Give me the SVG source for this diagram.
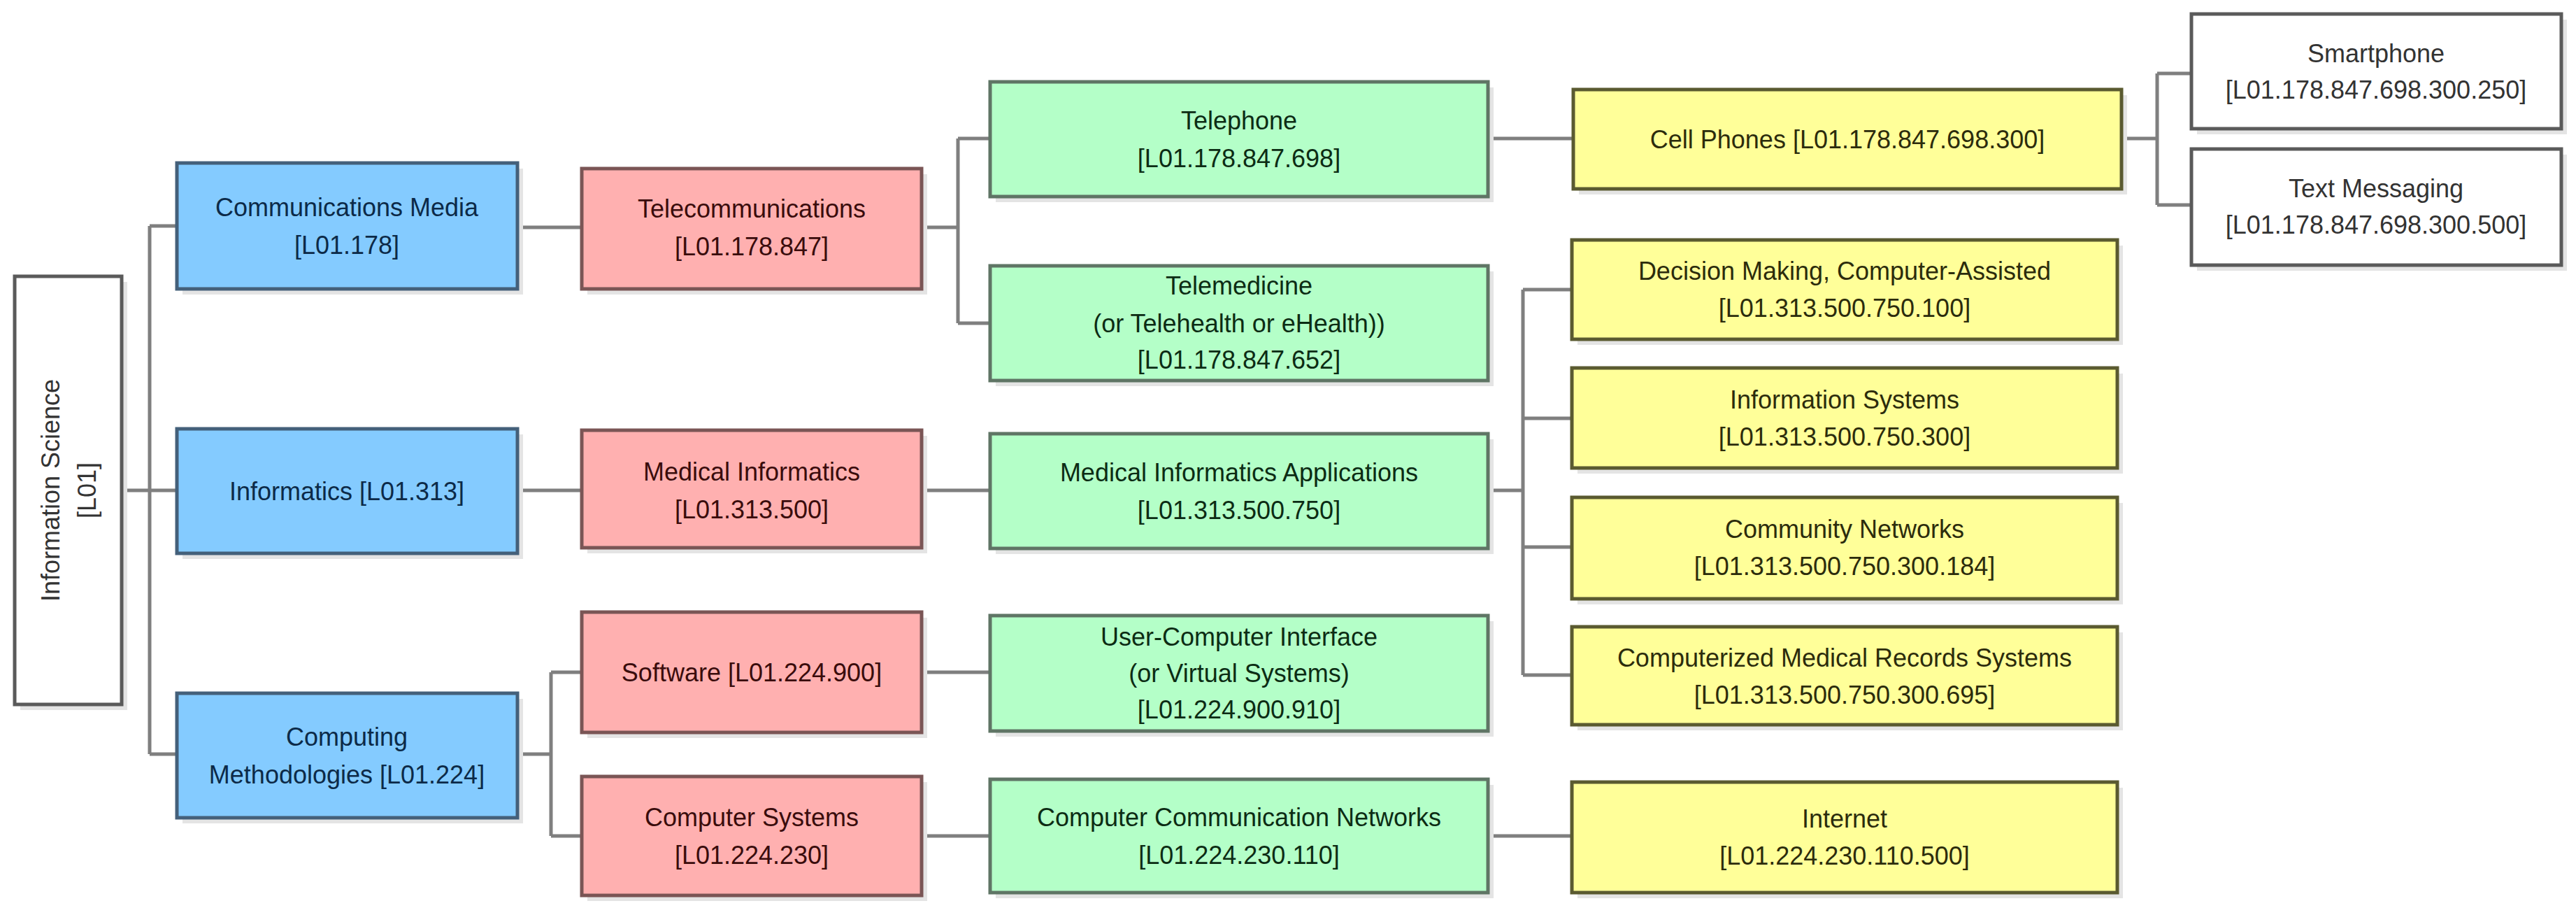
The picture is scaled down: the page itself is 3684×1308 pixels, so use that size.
<svg xmlns="http://www.w3.org/2000/svg" width="3684" height="1308" viewBox="0 0 3684 1308">
<style>
text{font-family:"Liberation Sans",Arial,sans-serif;font-size:36px;text-anchor:middle;dominant-baseline:central}
.sh{fill:#e4e4e4}
.wh rect.b{fill:#fff;stroke:#5a5a5a;stroke-width:5}
.bl rect.b{fill:#84CBFF;stroke:#44607a;stroke-width:5}
.rd rect.b{fill:#FFB0B0;stroke:#7a5555;stroke-width:5}
.gr rect.b{fill:#B4FFC8;stroke:#5f7565;stroke-width:5}
.ye rect.b{fill:#FFFF99;stroke:#5a5a30;stroke-width:5}
.wh text{fill:#333}.bl text{fill:#0c2a48}.rd text{fill:#3a0c0c}.gr text{fill:#0c2c14}.ye text{fill:#2c2c0c}
#conn path{fill:none;stroke:#7f7f7f;stroke-width:5}
</style>
<g id="conn">
<path d="M174 701H214M214 323V1078M214 323H253M214 701H253M214 1078H253"/>
<path d="M740 325H832M740 701H832M740 1078H788M788 961V1195M788 961H832M788 1195H832"/>
<path d="M1318 325H1370M1370 198V462M1370 198H1416M1370 462H1416"/>
<path d="M1318 701H1416M1318 961H1416M1318 1195H1416"/>
<path d="M2128 198H2250M2128 701H2178M2178 414V965M2178 414H2248M2178 598H2248M2178 782H2248M2178 965H2248M2128 1195H2248"/>
<path d="M3034 198H3085M3085 105V293M3085 105H3134M3085 293H3134"/>
</g>
<g id="n-root" class="wh"><rect class="sh" x="29" y="403" width="153" height="612"/><rect class="b" x="21" y="395" width="153" height="612"/><text transform="translate(98 701) rotate(-90)"><tspan x="0" y="-26">Information Science</tspan><tspan x="0" y="26">[L01]</tspan></text></g>
<g id="n-comm" class="bl"><rect class="sh" x="261" y="241" width="487" height="180"/><rect class="b" x="253" y="233" width="487" height="180"/><text x="496" y="296">Communications Media</text><text x="496" y="350">[L01.178]</text></g>
<g id="n-inf" class="bl"><rect class="sh" x="261" y="621" width="487" height="178"/><rect class="b" x="253" y="613" width="487" height="178"/><text x="496" y="702">Informatics [L01.313]</text></g>
<g id="n-cm" class="bl"><rect class="sh" x="261" y="999" width="487" height="178"/><rect class="b" x="253" y="991" width="487" height="178"/><text x="496" y="1053">Computing</text><text x="496" y="1107">Methodologies [L01.224]</text></g>
<g id="n-tel" class="rd"><rect class="sh" x="840" y="249" width="486" height="172"/><rect class="b" x="832" y="241" width="486" height="172"/><text x="1075" y="298">Telecommunications</text><text x="1075" y="352">[L01.178.847]</text></g>
<g id="n-mi" class="rd"><rect class="sh" x="840" y="623" width="486" height="168"/><rect class="b" x="832" y="615" width="486" height="168"/><text x="1075" y="674">Medical Informatics</text><text x="1075" y="728">[L01.313.500]</text></g>
<g id="n-sw" class="rd"><rect class="sh" x="840" y="883" width="486" height="172"/><rect class="b" x="832" y="875" width="486" height="172"/><text x="1075" y="961">Software [L01.224.900]</text></g>
<g id="n-cs" class="rd"><rect class="sh" x="840" y="1118" width="486" height="170"/><rect class="b" x="832" y="1110" width="486" height="170"/><text x="1075" y="1168">Computer Systems</text><text x="1075" y="1222">[L01.224.230]</text></g>
<g id="n-phone" class="gr"><rect class="sh" x="1424" y="125" width="712" height="164"/><rect class="b" x="1416" y="117" width="712" height="164"/><text x="1772" y="172">Telephone</text><text x="1772" y="226">[L01.178.847.698]</text></g>
<g id="n-tm" class="gr"><rect class="sh" x="1424" y="388" width="712" height="164"/><rect class="b" x="1416" y="380" width="712" height="164"/><text x="1772" y="408">Telemedicine</text><text x="1772" y="462">(or Telehealth or eHealth))</text><text x="1772" y="514">[L01.178.847.652]</text></g>
<g id="n-mia" class="gr"><rect class="sh" x="1424" y="628" width="712" height="164"/><rect class="b" x="1416" y="620" width="712" height="164"/><text x="1772" y="675">Medical Informatics Applications</text><text x="1772" y="729">[L01.313.500.750]</text></g>
<g id="n-uci" class="gr"><rect class="sh" x="1424" y="888" width="712" height="165"/><rect class="b" x="1416" y="880" width="712" height="165"/><text x="1772" y="910">User-Computer Interface</text><text x="1772" y="962">(or Virtual Systems)</text><text x="1772" y="1014">[L01.224.900.910]</text></g>
<g id="n-ccn" class="gr"><rect class="sh" x="1424" y="1122" width="712" height="162"/><rect class="b" x="1416" y="1114" width="712" height="162"/><text x="1772" y="1168">Computer Communication Networks</text><text x="1772" y="1222">[L01.224.230.110]</text></g>
<g id="n-cell" class="ye"><rect class="sh" x="2258" y="136" width="784" height="142"/><rect class="b" x="2250" y="128" width="784" height="142"/><text x="2642" y="199">Cell Phones [L01.178.847.698.300]</text></g>
<g id="n-dm" class="ye"><rect class="sh" x="2256" y="351" width="780" height="142"/><rect class="b" x="2248" y="343" width="780" height="142"/><text x="2638" y="387">Decision Making, Computer-Assisted</text><text x="2638" y="440">[L01.313.500.750.100]</text></g>
<g id="n-is" class="ye"><rect class="sh" x="2256" y="534" width="780" height="143"/><rect class="b" x="2248" y="526" width="780" height="143"/><text x="2638" y="571">Information Systems</text><text x="2638" y="624">[L01.313.500.750.300]</text></g>
<g id="n-cn" class="ye"><rect class="sh" x="2256" y="719" width="780" height="145"/><rect class="b" x="2248" y="711" width="780" height="145"/><text x="2638" y="756">Community Networks</text><text x="2638" y="809">[L01.313.500.750.300.184]</text></g>
<g id="n-cmr" class="ye"><rect class="sh" x="2256" y="904" width="780" height="140"/><rect class="b" x="2248" y="896" width="780" height="140"/><text x="2638" y="940">Computerized  Medical Records Systems</text><text x="2638" y="993">[L01.313.500.750.300.695]</text></g>
<g id="n-net" class="ye"><rect class="sh" x="2256" y="1126" width="780" height="158"/><rect class="b" x="2248" y="1118" width="780" height="158"/><text x="2638" y="1170">Internet</text><text x="2638" y="1223">[L01.224.230.110.500]</text></g>
<g id="n-sp" class="wh"><rect class="sh" x="3142" y="28" width="529" height="164"/><rect class="b" x="3134" y="20" width="529" height="164"/><text x="3398" y="76">Smartphone</text><text x="3398" y="128">[L01.178.847.698.300.250]</text></g>
<g id="n-txt" class="wh"><rect class="sh" x="3142" y="221" width="529" height="166"/><rect class="b" x="3134" y="213" width="529" height="166"/><text x="3398" y="269">Text Messaging</text><text x="3398" y="321">[L01.178.847.698.300.500]</text></g>
</svg>
